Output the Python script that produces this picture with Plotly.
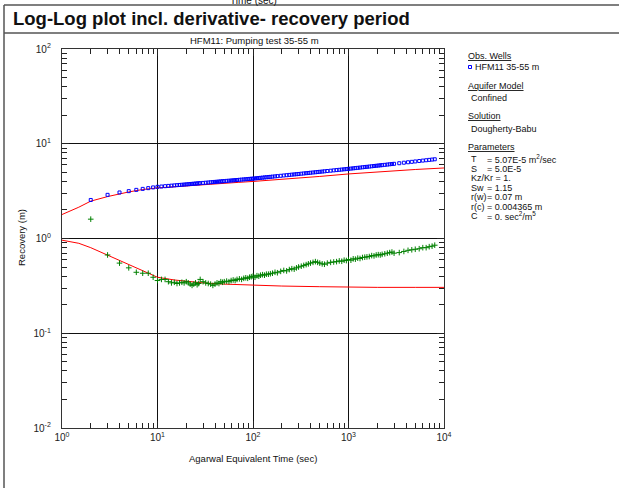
import plotly.graph_objects as go

# ---------------- data ----------------
time_s = [2, 3, 4, 5, 6, 7, 8, 9, 10, 11, 12, 13, 14, 15, 16, 17, 18, 19, 20, 21, 22, 23,
          24, 25, 26, 27, 28, 30, 32, 34, 36, 38, 40, 42, 44, 46, 48, 50, 53, 56, 59, 62,
          65, 68, 72, 76, 80, 84, 88, 92, 96, 100, 105, 110, 115, 120, 126, 132, 138, 145,
          152, 160, 170, 180, 195, 210, 225, 240, 255, 270, 285, 300, 320, 340, 360, 380,
          400, 425, 450, 475, 500, 530, 560, 600, 650, 700, 750, 800, 850, 900, 950, 1000,
          1060, 1120, 1180, 1250, 1320, 1400, 1480, 1560, 1650, 1750, 1850, 1950, 2050,
          2150, 2250, 2400, 2550, 2700, 2850, 3000, 3400, 3800, 4200, 4600, 5000, 5500,
          6000, 6500, 7000, 7500, 8000]

recovery_m = [2.55, 2.89, 3.06, 3.16, 3.26, 3.34, 3.40, 3.46, 3.51, 3.537, 3.564, 3.589,
              3.612, 3.634, 3.655, 3.673, 3.692, 3.710, 3.726, 3.741, 3.757, 3.772, 3.786,
              3.799, 3.812, 3.824, 3.837, 3.859, 3.880, 3.901, 3.921, 3.939, 3.957, 3.973,
              3.990, 4.005, 4.020, 4.034, 4.055, 4.075, 4.093, 4.111, 4.128, 4.144, 4.165,
              4.184, 4.203, 4.221, 4.238, 4.255, 4.270, 4.285, 4.307, 4.328, 4.348, 4.367,
              4.388, 4.409, 4.429, 4.451, 4.473, 4.497, 4.525, 4.552, 4.590, 4.625, 4.658,
              4.689, 4.719, 4.746, 4.772, 4.798, 4.830, 4.860, 4.889, 4.916, 4.943, 4.974,
              5.003, 5.031, 5.058, 5.088, 5.117, 5.154, 5.196, 5.236, 5.273, 5.309, 5.342,
              5.374, 5.404, 5.433, 5.468, 5.502, 5.535, 5.570, 5.603, 5.641, 5.676, 5.709,
              5.746, 5.783, 5.819, 5.854, 5.887, 5.918, 5.948, 5.992, 6.032, 6.071, 6.108,
              6.143, 6.230, 6.308, 6.379, 6.444, 6.505, 6.575, 6.640, 6.699, 6.756, 6.808,
              6.857]

derivative_m = [1.60, 0.67, 0.55, 0.49, 0.44, 0.43, 0.43, 0.39, 0.36, 0.37, 0.37, 0.35,
                0.34, 0.345, 0.335, 0.34, 0.345, 0.34, 0.35, 0.34, 0.33, 0.32, 0.33, 0.34,
                0.325, 0.335, 0.37, 0.35, 0.34, 0.335, 0.33, 0.32, 0.33, 0.34, 0.335, 0.35,
                0.345, 0.35, 0.355, 0.35, 0.36, 0.365, 0.36, 0.37, 0.375, 0.37, 0.38, 0.385,
                0.38, 0.39, 0.395, 0.40, 0.39, 0.405, 0.40, 0.41, 0.415, 0.41, 0.42, 0.42,
                0.425, 0.43, 0.44, 0.435, 0.45, 0.46, 0.455, 0.47, 0.48, 0.475, 0.49, 0.50,
                0.51, 0.52, 0.53, 0.54, 0.55, 0.56, 0.57, 0.56, 0.55, 0.54, 0.535, 0.55,
                0.56, 0.565, 0.57, 0.58, 0.575, 0.59, 0.585, 0.60, 0.59, 0.61, 0.605, 0.62,
                0.615, 0.63, 0.635, 0.64, 0.645, 0.66, 0.655, 0.67, 0.675, 0.67, 0.68, 0.69,
                0.70, 0.71, 0.72, 0.70, 0.71, 0.73, 0.75, 0.76, 0.77, 0.78, 0.80, 0.80, 0.82,
                0.83, 0.85]

model_time_s = [1, 1.5, 2, 3, 5, 7, 10, 15, 20, 30, 50, 70, 100, 200, 500, 1000, 2000,
                5000, 10000]
model_recovery_m = [1.79, 2.14, 2.48, 2.77, 3.10, 3.29, 3.42, 3.53, 3.60, 3.70, 3.82,
                    3.91, 4.00, 4.20, 4.52, 4.80, 5.05, 5.35, 5.55]
model_derivative_m = [0.96, 0.89, 0.80, 0.67, 0.53, 0.455, 0.39, 0.365, 0.355, 0.34, 0.33,
                      0.325, 0.32, 0.315, 0.31, 0.305, 0.305, 0.305, 0.305]

x_tick_vals = [1, 10, 100, 1000, 10000]
x_tick_text = ["10<sup>0</sup>", "10<sup>1</sup>", "10<sup>2</sup>", "10<sup>3</sup>",
               "10<sup>4</sup>"]
y_tick_vals = [0.01, 0.1, 1, 10, 100]
y_tick_text = ["10<sup>-2</sup>", "10<sup>-1</sup>", "10<sup>0</sup>", "10<sup>1</sup>",
               "10<sup>2</sup>"]

legend_labels = ["T", "S", "Kz/Kr = 1.", "Sw", "r(w)", "r(c)", "C"]
legend_values = ["= 5.07E-5 m<sup>2</sup>/sec", "= 5.0E-5", "", "= 1.15", "= 0.07 m",
                 "= 0.004365 m", "= 0. sec<sup>2</sup>/m<sup>5</sup>"]

# ---------------- layout helpers ----------------
W, H = 619, 488
L, R, T, B = 62, 444, 49, 428
FONT = "Liberation Sans, Arial, Helvetica, sans-serif"


def px(xp):
    return (xp - L) / (R - L)


def py(yp):
    return (B - yp) / (B - T)


fig = go.Figure()

fig.add_trace(go.Scatter(x=model_time_s, y=model_recovery_m, mode="lines",
                         line=dict(color="#ff0000", width=1), showlegend=False))
fig.add_trace(go.Scatter(x=model_time_s, y=model_derivative_m, mode="lines",
                         line=dict(color="#ff0000", width=1), showlegend=False))
fig.add_trace(go.Scatter(x=time_s, y=recovery_m, mode="markers",
                         marker=dict(symbol="square-open", size=3, color="#0000ff",
                                     line=dict(width=1, color="#0000ff")),
                         showlegend=False))
fig.add_trace(go.Scatter(x=time_s, y=derivative_m, mode="markers",
                         marker=dict(symbol="cross-thin-open", size=4, color="#008000",
                                     line=dict(width=1, color="#008000")),
                         showlegend=False))

minor_x = [m * 10 ** k for k in range(0, 4) for m in range(2, 10)]
minor_y = [m * 10.0 ** k for k in range(-2, 2) for m in range(2, 10)]

axis_common = dict(type="log", showline=True, linecolor="#333", linewidth=1.3,
                   mirror="allticks", ticks="inside", ticklen=7, tickcolor="#222",
                   showgrid=True, gridcolor="#111", gridwidth=1, zeroline=False,
                   automargin=False,
                   tickfont=dict(family=FONT, size=10, color="#222"))

fig.update_xaxes(range=[0, 4], tickmode="array", tickvals=x_tick_vals, ticktext=x_tick_text,
                 minor=dict(tickvals=minor_x, ticks="inside", ticklen=5, tickcolor="#222",
                            showgrid=False),
                 **axis_common)
fig.update_yaxes(range=[-2, 2], tickmode="array", tickvals=y_tick_vals, ticktext=y_tick_text,
                 minor=dict(tickvals=minor_y, ticks="inside", ticklen=5, tickcolor="#222",
                            showgrid=False),
                 ticklabelstandoff=8,
                 **axis_common)

ann = []


def text(x, y, s, size=9, xanchor="left", **kw):
    ann.append(dict(x=px(x), y=py(y), xref="paper", yref="paper", text=s, showarrow=False,
                    xanchor=xanchor, yanchor="middle",
                    font=dict(family=FONT, size=size, color="#111"), **kw))


text(253, 0, "Time (sec)", size=10, xanchor="center")
text(11, 19, "<b>Log-Log plot incl. derivative- recovery period</b>", size=18.5)
text(254, 40, "HFM11: Pumping test 35-55 m", size=9.5, xanchor="center")
text(253, 458, "Agarwal Equivalent Time (sec)", size=9.5, xanchor="center")
text(21, 238, "Recovery (m)", size=9.5, xanchor="center", textangle=-90)

text(466, 56, "<u>Obs. Wells</u>")
text(473, 67, "HFM11 35-55 m")
text(466, 86, "<u>Aquifer Model</u>")
text(469, 98, "Confined")
text(466, 116, "<u>Solution</u>")
text(469, 129, "Dougherty-Babu")
text(466, 147, "<u>Parameters</u>")
row_y = [159, 168.5, 178, 187.5, 197, 206.5, 216]
for lab, val, yy in zip(legend_labels, legend_values, row_y):
    text(469, yy, lab)
    if val:
        text(485, yy, val)

shapes = [
    dict(type="line", xref="paper", yref="paper", x0=px(4), x1=px(4), y0=py(5), y1=py(495),
         line=dict(color="#555", width=1.5)),
    dict(type="line", xref="paper", yref="paper", x0=px(4), x1=px(625), y0=py(5), y1=py(5),
         line=dict(color="#555", width=1.5)),
    dict(type="line", xref="paper", yref="paper", x0=px(4), x1=px(625), y0=py(33), y1=py(33),
         line=dict(color="#555", width=1.5)),
    dict(type="rect", xref="paper", yref="paper", x0=px(468.5), x1=px(471.5), y0=py(65.5),
         y1=py(68.5), line=dict(color="#0000ff", width=1)),
]

fig.update_layout(width=W, height=H, margin=dict(l=L, r=W - R, t=T, b=H - B),
                  paper_bgcolor="white", plot_bgcolor="white", annotations=ann,
                  shapes=shapes, showlegend=False)

fig.write_html("out.html", config={"displayModeBar": False},
               post_script="document.body.style.margin='0px';"
                           "document.body.style.overflow='hidden';")
